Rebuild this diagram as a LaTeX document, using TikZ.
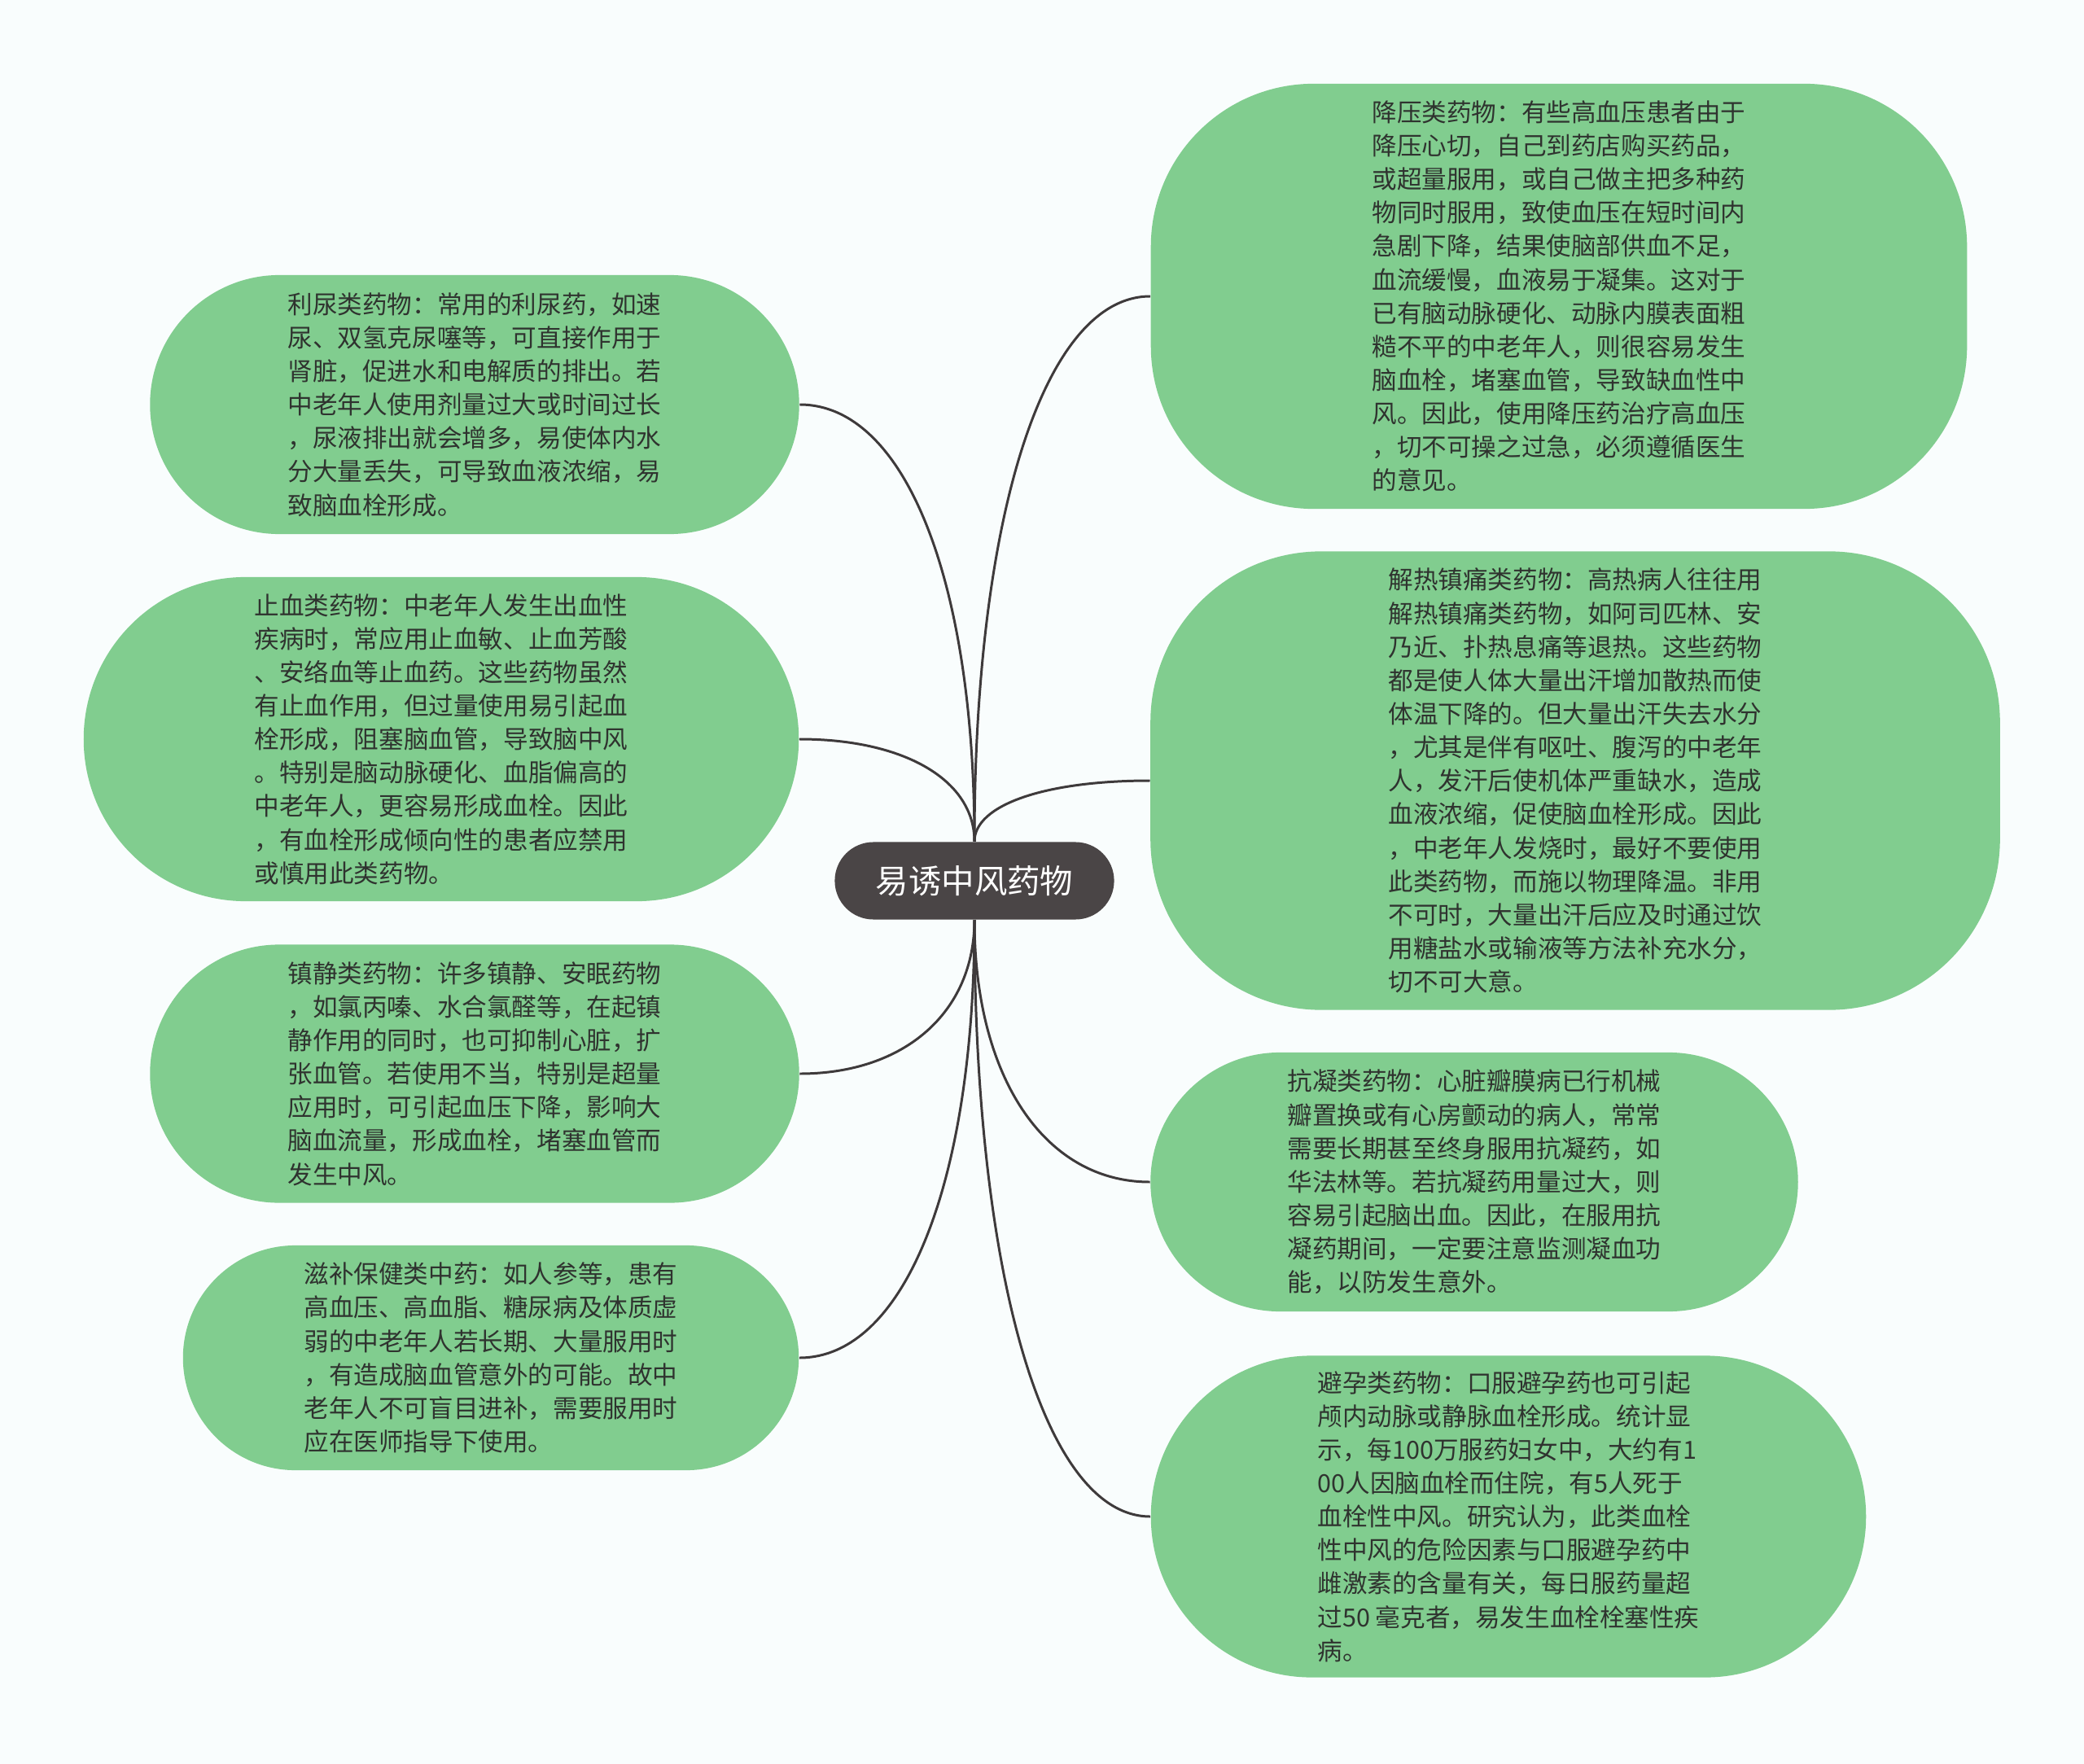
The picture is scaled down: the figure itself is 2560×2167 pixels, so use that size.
\documentclass[tikz,border=0pt]{standalone}
\usepackage{fontspec}
\setmainfont{Noto Sans CJK SC}
\usetikzlibrary{calc,positioning}
\definecolor{leafgreen}{HTML}{81CD8F}
\definecolor{rootgray}{HTML}{4A4546}
\definecolor{linegray}{HTML}{3E3A3B}
\definecolor{textdark}{HTML}{2F332F}
\definecolor{paper}{HTML}{F9FDFD}

\begin{document}
\begin{tikzpicture}[
    x=0.01cm, y=-0.01cm,
    leaf/.style n args={3}{
        fill=leafgreen,
        text=textdark,
        align=left,
        inner sep=0pt,
        minimum width=#1,
        minimum height=#2,
        rounded corners=#3,
        font=\fontsize{8.7}{11.7}\selectfont
    },
    root/.style={
        fill=rootgray,
        text=white,
        inner sep=0pt,
        minimum width=3.43cm,
        minimum height=0.95cm,
        rounded corners=0.475cm,
        font=\fontsize{11.5}{13}\selectfont
    },
    link/.style={
        draw=linegray,
        line width=0.85pt,
        to path={.. controls ($(\tikztostart)!0.6!(\tikztostart |- \tikztotarget)$)
            and ($(\tikztotarget)!0.6!(\tikztostart |- \tikztotarget)$) .. (\tikztotarget)}
    },
    every edge/.style={link},
    ]

    \useasboundingbox[fill=paper] (0,0) rectangle (2560,2167);

    \node[root] (root) at (1197,1082) {易诱中风药物};

    % left side
    \node[leaf={7.97cm}{3.18cm}{1.59cm}] (liniao) at (583,497) {利尿类药物：常用的利尿药，如速\\尿、双氢克尿噻等，可直接作用于\\肾脏，促进水和电解质的排出。若\\中老年人使用剂量过大或时间过长\\，尿液排出就会增多，易使体内水\\分大量丢失，可导致血液浓缩，易\\致脑血栓形成。};
    \node[leaf={8.78cm}{3.98cm}{1.99cm}] (zhixue) at (542,908) {止血类药物：中老年人发生出血性\\疾病时，常应用止血敏、止血芳酸\\、安络血等止血药。这些药物虽然\\有止血作用，但过量使用易引起血\\栓形成，阻塞脑血管，导致脑中风\\。特别是脑动脉硬化、血脂偏高的\\中老年人，更容易形成血栓。因此\\，有血栓形成倾向性的患者应禁用\\或慎用此类药物。};
    \node[leaf={7.97cm}{3.17cm}{1.585cm}] (zhenjing) at (583,1319) {镇静类药物：许多镇静、安眠药物\\，如氯丙嗪、水合氯醛等，在起镇\\静作用的同时，也可抑制心脏，扩\\张血管。若使用不当，特别是超量\\应用时，可引起血压下降，影响大\\脑血流量，形成血栓，堵塞血管而\\发生中风。};
    \node[leaf={7.56cm}{2.76cm}{1.38cm}] (zibu) at (603,1668) {滋补保健类中药：如人参等，患有\\高血压、高血脂、糖尿病及体质虚\\弱的中老年人若长期、大量服用时\\，有造成脑血管意外的可能。故中\\老年人不可盲目进补，需要服用时\\应在医师指导下使用。};

    % right side
    \node[leaf={10.02cm}{5.22cm}{2.0cm}] (jiangya) at (1915,364) {降压类药物：有些高血压患者由于\\降压心切，自己到药店购买药品，\\或超量服用，或自己做主把多种药\\物同时服用，致使血压在短时间内\\急剧下降，结果使脑部供血不足，\\血流缓慢，血液易于凝集。这对于\\已有脑动脉硬化、动脉内膜表面粗\\糙不平的中老年人，则很容易发生\\脑血栓，堵塞血管，导致缺血性中\\风。因此，使用降压药治疗高血压\\，切不可操之过急，必须遵循医生\\的意见。};
    \node[leaf={10.43cm}{5.63cm}{2.1cm}] (jiere) at (1935,959) {解热镇痛类药物：高热病人往往用\\解热镇痛类药物，如阿司匹林、安\\乃近、扑热息痛等退热。这些药物\\都是使人体大量出汗增加散热而使\\体温下降的。但大量出汗失去水分\\，尤其是伴有呕吐、腹泻的中老年\\人，发汗后使机体严重缺水，造成\\血液浓缩，促使脑血栓形成。因此\\，中老年人发烧时，最好不要使用\\此类药物，而施以物理降温。非用\\不可时，大量出汗后应及时通过饮\\用糖盐水或输液等方法补充水分，\\切不可大意。};
    \node[leaf={7.95cm}{3.18cm}{1.59cm}] (kangning) at (1811,1452) {抗凝类药物：心脏瓣膜病已行机械\\瓣置换或有心房颤动的病人，常常\\需要长期甚至终身服用抗凝药，如\\华法林等。若抗凝药用量过大，则\\容易引起脑出血。因此，在服用抗\\凝药期间，一定要注意监测凝血功\\能，以防发生意外。};
    \node[leaf={8.78cm}{3.95cm}{1.975cm}] (biyun) at (1853,1863) {避孕类药物：口服避孕药也可引起\\颅内动脉或静脉血栓形成。统计显\\示，每100万服药妇女中，大约有1\\00人因脑血栓而住院，有5人死于\\血栓性中风。研究认为，此类血栓\\性中风的危险因素与口服避孕药中\\雌激素的含量有关，每日服药量超\\过50 毫克者，易发生血栓栓塞性疾\\病。};

    \path
        (root.north) edge (liniao.east)
        (root.north) edge (zhixue.east)
        (root.south) edge (zhenjing.east)
        (root.south) edge (zibu.east)
        (root.north) edge (jiangya.west)
        (root.north) edge (jiere.west)
        (root.south) edge (kangning.west)
        (root.south) edge (biyun.west);
\end{tikzpicture}
\end{document}
